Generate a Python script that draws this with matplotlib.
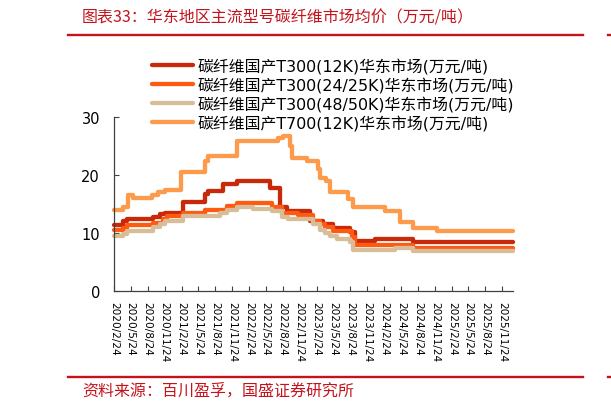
import matplotlib
matplotlib.use("Agg")
import matplotlib.pyplot as plt
from matplotlib.lines import Line2D
import pandas as pd

plt.rcParams['font.family'] = ['DejaVu Sans', 'Noto Sans CJK SC']

# ---------------- data (change points of weekly prices, 万元/吨) ----------------
t300_12k_dates = ["2020-02-24", "2020-04-13", "2020-05-04", "2020-09-22", "2020-10-30",
                  "2020-11-26", "2021-03-03", "2021-06-30", "2021-07-17", "2021-10-06",
                  "2021-12-20", "2022-06-17", "2022-08-10", "2022-09-17", "2023-01-19",
                  "2023-03-31", "2023-05-24", "2023-08-24", "2023-09-20", "2024-01-06",
                  "2024-07-30", "2026-01-20"]
t300_12k_vals = [11.3, 12.0, 12.5, 12.8, 13.2, 13.5, 15.4, 16.7, 17.2, 18.4, 18.9, 17.8,
                 14.4, 13.8, 12.1, 11.5, 10.9, 10.1, 8.6, 8.9, 8.4, 8.4]

t300_25k_dates = ["2020-02-24", "2020-04-13", "2020-05-04", "2020-09-22", "2020-11-15",
                  "2020-12-07", "2021-03-03", "2021-06-30", "2021-10-27", "2021-12-20",
                  "2022-06-28", "2022-08-21", "2022-11-15", "2023-02-05", "2023-03-14",
                  "2023-04-11", "2023-05-24", "2023-09-04", "2023-09-20", "2024-07-30",
                  "2026-01-20"]
t300_25k_vals = [10.5, 10.8, 11.3, 11.8, 12.4, 12.9, 13.4, 14.0, 14.6, 15.1, 14.5, 13.5,
                 13.1, 12.0, 11.5, 11.0, 10.3, 9.3, 7.9, 7.5, 7.5]

t300_50k_dates = ["2020-02-24", "2020-04-13", "2020-05-04", "2020-09-22", "2020-10-30",
                  "2020-11-26", "2021-03-03", "2021-09-19", "2021-10-27", "2021-12-20",
                  "2022-03-17", "2022-06-28", "2022-08-21", "2022-09-22", "2023-02-05",
                  "2023-03-14", "2023-04-11", "2023-05-08", "2023-06-14", "2023-08-24",
                  "2023-09-09", "2024-04-23", "2024-07-30", "2026-01-20"]
t300_50k_vals = [9.5, 9.9, 10.4, 11.0, 11.5, 12.1, 12.9, 13.5, 14.0, 14.4, 14.2, 13.8,
                 12.8, 12.4, 11.5, 10.5, 10.0, 9.4, 8.9, 8.5, 7.0, 7.5, 6.9, 6.9]

t700_12k_dates = ["2020-02-24", "2020-04-13", "2020-05-10", "2020-06-06", "2020-09-17",
                  "2020-10-19", "2020-11-26", "2021-02-20", "2021-06-30", "2021-07-17",
                  "2021-12-20", "2022-07-30", "2022-08-26", "2022-10-03", "2022-10-14",
                  "2023-01-03", "2023-03-04", "2023-03-14", "2023-04-16", "2023-05-08",
                  "2023-08-13", "2023-09-09", "2024-02-29", "2024-05-20", "2024-07-30",
                  "2024-12-06", "2026-01-20"]
t700_12k_vals = [14.0, 14.5, 16.5, 16.0, 16.5, 17.0, 17.5, 20.5, 22.5, 23.3, 25.8, 26.3,
                 26.8, 25.0, 23.0, 22.4, 21.0, 19.5, 19.0, 17.0, 15.8, 14.5, 13.8, 11.9,
                 10.8, 10.4, 10.4]

series_names = ["碳纤维国产T300(12K)华东市场(万元/吨)",
                "碳纤维国产T300(24/25K)华东市场(万元/吨)",
                "碳纤维国产T300(48/50K)华东市场(万元/吨)",
                "碳纤维国产T700(12K)华东市场(万元/吨)"]

tick_labels = ["2020/2/24", "2020/5/24", "2020/8/24", "2020/11/24",
               "2021/2/24", "2021/5/24", "2021/8/24", "2021/11/24",
               "2022/2/24", "2022/5/24", "2022/8/24", "2022/11/24",
               "2023/2/24", "2023/5/24", "2023/8/24", "2023/11/24",
               "2024/2/24", "2024/5/24", "2024/8/24", "2024/11/24",
               "2025/2/24", "2025/5/24", "2025/8/24", "2025/11/24"]
y_ticks = [0, 10, 20, 30]

title_text = "图表33：华东地区主流型号碳纤维市场均价（万元/吨）"
source_text = "资料来源：百川盈孚，国盛证券研究所"

colors = ["#C8290B", "#FE5A12", "#D8BE98", "#FD9A4B"]
red = "#C3141E"

# ---------------- figure ----------------
W, H = 611, 410
fig = plt.figure(figsize=(W / 100, H / 100), dpi=100)
ax = fig.add_axes([114 / W, 1 - 292 / H, (513 - 114) / W, (292 - 118) / H])

all_series = [(t300_12k_dates, t300_12k_vals), (t300_25k_dates, t300_25k_vals),
              (t300_50k_dates, t300_50k_vals), (t700_12k_dates, t700_12k_vals)]
for (d, v), c, name in zip(all_series, colors, series_names):
    ax.plot(pd.to_datetime(d), v, drawstyle="steps-post", color=c, lw=3.1,
            solid_joinstyle="round", solid_capstyle="round", label=name, clip_on=False)

ax.set_ylim(0, 30)
ax.set_yticks(y_ticks)
ax.set_xlim(pd.Timestamp("2020-02-24"), pd.Timestamp("2026-01-20"))
tick_pos = pd.to_datetime(tick_labels, format="%Y/%m/%d")
ax.set_xticks(tick_pos)
ax.set_xticklabels(tick_labels, rotation=-90, ha="center", va="top", fontsize=7.6)

for s in ["top", "right"]:
    ax.spines[s].set_visible(False)
for s in ["left", "bottom"]:
    ax.spines[s].set_color("#404040")
    ax.spines[s].set_linewidth(0.9)

ax.tick_params(axis="x", direction="in", length=3.5, width=0.8, color="#404040", pad=7)
ax.tick_params(axis="y", direction="in", length=3.5, width=0.8, color="#404040",
               pad=10, labelsize=10.5)

leg = fig.legend(loc="upper left", bbox_to_anchor=(152 / W, 1 - 58.5 / H), frameon=False,
                 fontsize=11.4, handlelength=2.6, handletextpad=0.3, labelspacing=0.2,
                 borderpad=0, borderaxespad=0)

# title, rules, source
fig.text(82 / W, 1 - 18 / H, title_text, fontsize=11.5, color=red, style="italic",
         ha="left", va="center", family=["Noto Sans CJK SC", "DejaVu Sans"])
for yy in (35.7, 378):
    fig.add_artist(Line2D([68 / W, 583 / W], [1 - yy / H] * 2, color=red, lw=1.7))
    fig.add_artist(Line2D([608 / W, 1.0], [1 - yy / H] * 2, color=red, lw=1.7))
fig.text(82 / W, 1 - 391 / H, source_text, fontsize=11.5, color=red, style="italic",
         ha="left", va="center", family=["Noto Sans CJK SC", "DejaVu Sans"])

fig.savefig("out.png", dpi=100)
